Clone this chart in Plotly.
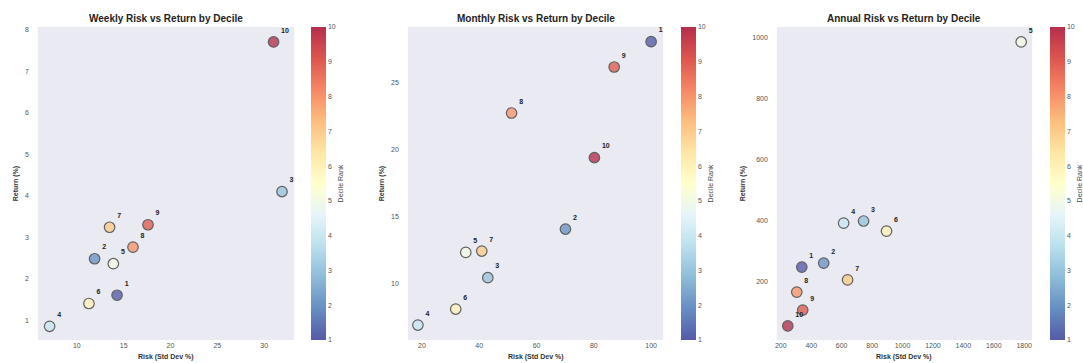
import plotly.graph_objects as go

deciles = [1, 2, 3, 4, 5, 6, 7, 8, 9, 10]

weekly_risk = [14.3, 11.9, 31.9, 7.1, 13.9, 11.3, 13.5, 16.0, 17.6, 31.0]
weekly_return = [1.6, 2.48, 4.1, 0.85, 2.36, 1.4, 3.24, 2.76, 3.3, 7.71]

monthly_risk = [100.0, 70.1, 43.0, 18.6, 35.3, 31.8, 40.9, 51.3, 87.1, 80.2]
monthly_return = [28.1, 14.05, 10.4, 6.85, 12.3, 8.05, 12.4, 22.75, 26.2, 19.4]

annual_risk = [338, 482, 744, 613, 1780, 895, 639, 305, 344, 246]
annual_return = [249, 262, 400, 393, 987, 367, 207, 167, 108, 56]

titles = ["Weekly Risk vs Return by Decile",
          "Monthly Risk vs Return by Decile",
          "Annual Risk vs Return by Decile"]
cbar_titles = ["Decile Rank", "Decile Rank", "Decile Rank"]
x_title = "Risk (Std Dev %)"
y_title = "Return (%)"

weekly_xticks = [10, 15, 20, 25, 30]
weekly_yticks = [1, 2, 3, 4, 5, 6, 7, 8]
monthly_xticks = [20, 40, 60, 80, 100]
monthly_yticks = [10, 15, 20, 25]
annual_xticks = [200, 400, 600, 800, 1000, 1200, 1400, 1600, 1800]
annual_yticks = [200, 400, 600, 800, 1000]

# ---- style ----
W, H = 1083, 363
FONT = "Liberation Sans, Arial, sans-serif"
base_cols = ["#313695", "#4575b4", "#74add1", "#abd9e9", "#e0f3f8", "#ffffbf",
             "#fee090", "#fdae61", "#f46d43", "#d73027", "#a50026"]


def blend(hexc, a=0.82):
    r, g, b = int(hexc[1:3], 16), int(hexc[3:5], 16), int(hexc[5:7], 16)
    f = lambda c: round(c * a + 255 * (1 - a))
    return f"rgb({f(r)},{f(g)},{f(b)})"


cscale = [[i / 10, blend(c)] for i, c in enumerate(base_cols)]

plot_x = [(38, 295), (409, 665), (779, 1035)]
cbar_x = [312, 683, 1053]
ytop, ybot = 27, 340
ydom = [1 - ybot / H, 1 - ytop / H]

series = [
    (weekly_risk, weekly_return, weekly_xticks, weekly_yticks, [5.85, 33.2], [0.52, 8.07]),
    (monthly_risk, monthly_return, monthly_xticks, monthly_yticks, [15.1, 104.2], [5.73, 29.2]),
    (annual_risk, annual_return, annual_xticks, annual_yticks, [174, 1852], [10, 1036]),
]

fig = go.Figure()
layout = dict(
    width=W, height=H,
    margin=dict(l=0, r=0, t=0, b=0),
    paper_bgcolor="white",
    showlegend=False,
    font=dict(family=FONT, size=7, color="#444"),
    annotations=[],
)

for i, (xs, ys, xt, yt, xr, yr) in enumerate(series):
    n = "" if i == 0 else str(i + 1)
    fig.add_trace(go.Scatter(
        x=xs, y=ys, mode="markers+text",
        text=[str(d) for d in deciles],
        textposition="top right",
        textfont=dict(size=7, color="#222", family=FONT, weight="bold"),
        xaxis="x" + n, yaxis="y" + n,
        marker=dict(
            size=10.5, color=deciles, cmin=1, cmax=10, colorscale=cscale,
            opacity=0.78,
            line=dict(color="#3a3a3a", width=1.2),
            showscale=True,
            colorbar=dict(
                x=cbar_x[i] / W, xanchor="left", xpad=0, ypad=0,
                y=(ydom[0] + ydom[1]) / 2, yanchor="middle",
                len=ydom[1] - ydom[0], lenmode="fraction",
                thickness=15, outlinewidth=0,
                tickvals=deciles, ticks="", ticklen=0,
                tickfont=dict(size=7, color="#555"),
                title=dict(text=cbar_titles[i], side="right",
                           font=dict(size=7, color="#444")),
            ),
        ),
        cliponaxis=False,
        hoverinfo="skip",
    ))
    x0, x1 = plot_x[i]
    layout["xaxis" + n] = dict(
        domain=[x0 / W, x1 / W], range=xr, anchor="y" + n,
        tickvals=xt, showgrid=False, zeroline=False, showline=False,
        ticks="", tickfont=dict(size=7, color="#555"), automargin=False,
    )
    layout["yaxis" + n] = dict(
        domain=ydom, range=yr, anchor="x" + n,
        tickvals=yt, showgrid=False, zeroline=False, showline=False,
        ticks="", ticklabelstandoff=8,
        tickfont=dict(size=7, color="#555"), automargin=False,
        title=dict(text="<b>" + y_title + "</b>", font=dict(size=7, color="#333"),
                   standoff=5),
    )
    layout["annotations"].append(dict(
        text="<b>" + titles[i] + "</b>", x=(x0 + x1) / 2 / W, y=1 - 18 / H,
        xref="paper", yref="paper", xanchor="center", yanchor="middle",
        showarrow=False, font=dict(size=10, color="#222", family=FONT),
    ))
    layout["annotations"].append(dict(
        text="<b>" + x_title + "</b>", x=(x0 + x1) / 2 / W, y=1 - 357 / H,
        xref="paper", yref="paper", xanchor="center", yanchor="middle",
        showarrow=False, font=dict(size=7, color="#333", family=FONT),
    ))

fig.update_layout(**layout)
fig.update_layout(plot_bgcolor="#EAEAF2")
fig.write_html(
    "out.html",
    config={"displayModeBar": False},
    post_script="document.body.style.margin='0';document.body.style.overflow='hidden';",
)
